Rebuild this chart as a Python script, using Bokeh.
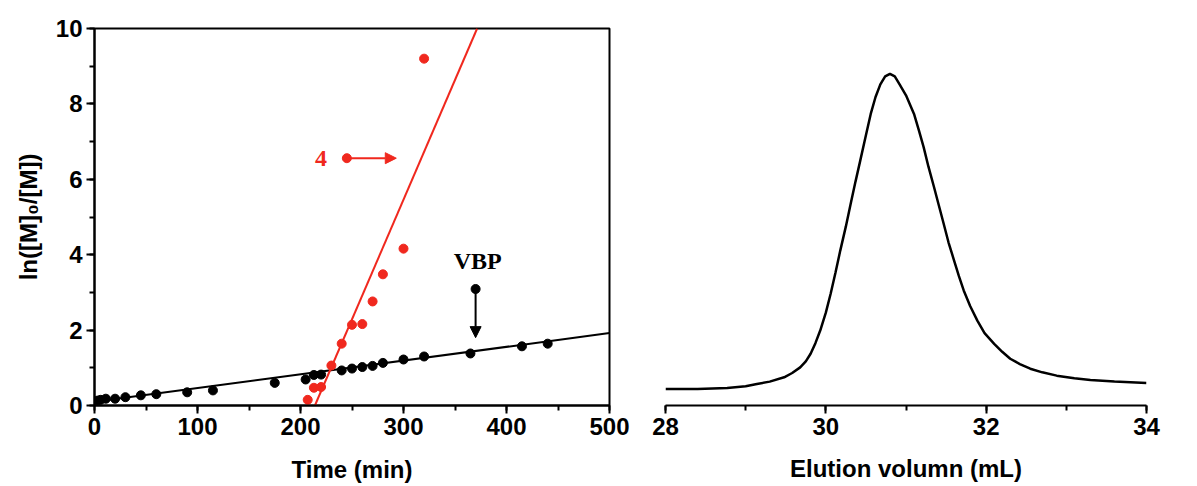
from bokeh.plotting import figure
from bokeh.models import Range1d, SingleIntervalTicker, Arrow, NormalHead
from bokeh.layouts import row
from bokeh.core.properties import value
from bokeh.embed import file_html
from bokeh.resources import INLINE

# ---- Left panel data: ln([M]0/[M]) vs time ----
vbp_time = [3, 6, 11, 20, 30, 45, 60, 90, 115, 175, 205, 213, 220, 240, 250,
            260, 270, 280, 300, 320, 365, 415, 440]
vbp_ln = [0.13, 0.15, 0.18, 0.18, 0.22, 0.27, 0.30, 0.35, 0.40, 0.60, 0.69,
          0.81, 0.82, 0.93, 0.98, 1.02, 1.05, 1.13, 1.22, 1.30, 1.38, 1.57, 1.64]
m4_time = [207, 213, 220, 230, 240, 250, 260, 270, 280, 300, 320]
m4_ln = [0.15, 0.47, 0.49, 1.06, 1.64, 2.14, 2.16, 2.76, 3.48, 4.16, 9.2]
vbp_fit_time = [0, 500]
vbp_fit_ln = [0.10, 1.92]
m4_fit_time = [214, 371.5]
m4_fit_ln = [0.0, 10.0]

# ---- Right panel data: GPC trace ----
elution_volume = [28.0, 28.4, 28.77, 29.0, 29.14, 29.3, 29.48, 29.58, 29.68, 29.75,
                  29.81, 29.87, 29.93, 30.0, 30.06, 30.12, 30.18, 30.25, 30.31,
                  30.37, 30.43, 30.50, 30.56, 30.62, 30.68, 30.74, 30.80, 30.86,
                  30.92, 31.00, 31.10, 31.16, 31.22, 31.28, 31.35, 31.41, 31.47,
                  31.53, 31.60, 31.66, 31.72, 31.80, 31.89, 31.98, 32.10, 32.20,
                  32.30, 32.42, 32.55, 32.70, 32.88, 33.10, 33.30, 33.60, 34.0]
signal = [0.050, 0.050, 0.053, 0.058, 0.065, 0.072, 0.085, 0.098, 0.115, 0.133,
          0.156, 0.188, 0.226, 0.280, 0.337, 0.400, 0.467, 0.540, 0.608,
          0.675, 0.739, 0.815, 0.879, 0.930, 0.968, 0.992, 1.0, 0.992,
          0.968, 0.935, 0.879, 0.830, 0.779, 0.720, 0.658, 0.603, 0.548,
          0.492, 0.437, 0.390, 0.347, 0.300, 0.256, 0.218, 0.186, 0.162,
          0.141, 0.125, 0.111, 0.100, 0.090, 0.082, 0.077, 0.072, 0.068]

RED = "#f0281e"
FONT = "Liberation Sans"
SERIF = "Liberation Serif"
FS = "24px"


def style_axis(ax, label, label_standoff):
    ax.axis_line_width = 2
    ax.axis_line_color = "black"
    ax.major_tick_in = 0
    ax.major_tick_out = 8
    ax.minor_tick_in = 0
    ax.minor_tick_out = 5
    ax.major_tick_line_width = 2
    ax.minor_tick_line_width = 2
    ax.major_label_text_font = FONT
    ax.major_label_text_font_size = FS
    ax.major_label_text_font_style = "bold"
    ax.major_label_text_color = "black"
    ax.major_label_standoff = 4
    ax.axis_label = label
    ax.axis_label_text_font = FONT
    ax.axis_label_text_font_size = FS
    ax.axis_label_text_font_style = "bold"
    ax.axis_label_text_color = "black"
    ax.axis_label_standoff = label_standoff


# ---------------- Left figure ----------------
p1 = figure(width=640, height=486, x_range=Range1d(0, 500), y_range=Range1d(0, 10),
            output_backend="svg", toolbar_location=None,
            min_border_left=94, min_border_right=31, min_border_top=28,
            min_border_bottom=79)
p1.grid.visible = False
p1.outline_line_color = "black"
p1.outline_line_width = 2
p1.background_fill_color = "white"
p1.border_fill_color = "white"

p1.xaxis.ticker = SingleIntervalTicker(interval=100, num_minor_ticks=2)
p1.yaxis.ticker = SingleIntervalTicker(interval=2, num_minor_ticks=2)
style_axis(p1.xaxis[0], "Time (min)", 18)
style_axis(p1.yaxis[0], "ln([M]\u2080/[M])", 11)

# fit lines
p1.line(vbp_fit_time, vbp_fit_ln, line_color="black", line_width=2)
p1.line(m4_fit_time, m4_fit_ln, line_color=RED, line_width=2)
# data points
p1.scatter(m4_time, m4_ln, size=9, color=RED)
p1.scatter(vbp_time, vbp_ln, size=9, color="black")

# annotation "4" with arrow
p1.text(x=[220], y=[6.56], text=["4"], text_color=RED,
        text_font=value(SERIF), text_font_size=FS, text_font_style="bold",
        text_align="center", text_baseline="middle")
p1.scatter([245], [6.56], size=9, color=RED)
p1.add_layout(Arrow(end=NormalHead(size=11, fill_color=RED, line_color=RED),
                    x_start=245, y_start=6.56, x_end=293, y_end=6.56,
                    line_color=RED, line_width=2))

# annotation "VBP" with arrow
p1.text(x=[372], y=[3.83], text=["VBP"], text_color="black",
        text_font=value(SERIF), text_font_size=FS, text_font_style="bold",
        text_align="center", text_baseline="middle")
p1.scatter([370], [3.09], size=9, color="black")
p1.add_layout(Arrow(end=NormalHead(size=11, fill_color="black", line_color="black"),
                    x_start=370, y_start=3.09, x_end=370, y_end=1.80,
                    line_color="black", line_width=2))

# ---------------- Right figure ----------------
p2 = figure(width=557, height=486, x_range=Range1d(28, 34), y_range=Range1d(0, 1.1366),
            output_backend="svg", toolbar_location=None, y_axis_location=None,
            min_border_left=25, min_border_right=51, min_border_top=28,
            min_border_bottom=81)
p2.grid.visible = False
p2.outline_line_color = None
p2.background_fill_color = "white"
p2.border_fill_color = "white"

p2.xaxis.ticker = SingleIntervalTicker(interval=2, num_minor_ticks=2)
style_axis(p2.xaxis[0], "Elution volumn (mL)", 17)

p2.line(elution_volume, signal, line_color="black", line_width=2.5)

layout = row(p1, p2)
open("out.html", "w").write(file_html(layout, INLINE))
